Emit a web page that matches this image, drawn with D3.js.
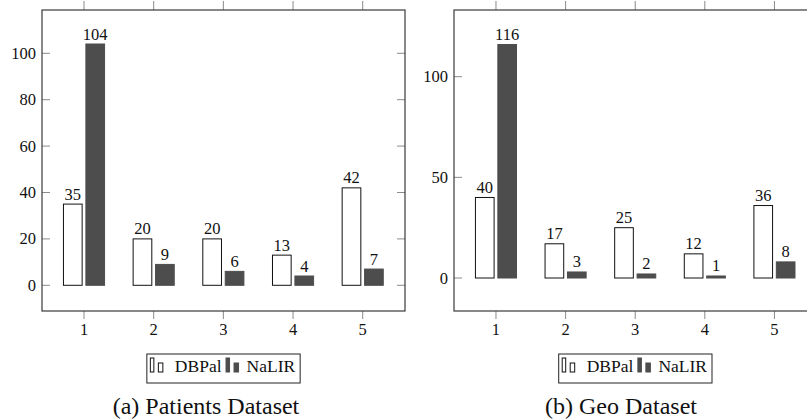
<!DOCTYPE html>
<html>
<head>
<meta charset="utf-8">
<script src="https://cdn.jsdelivr.net/npm/d3@7"></script>
</head>
<body style="margin:0">
<svg id="chart" width="807" height="419" style="display:block;font-family:'Liberation Serif'"></svg>
<script>
// ---- data ----
const categories = [1, 2, 3, 4, 5];
const seriesNames = ["DBPal", "NaLIR"];
const patientsDBPal = [35, 20, 20, 13, 42];
const patientsNaLIR = [104, 9, 6, 4, 7];
const geoDBPal = [40, 17, 25, 12, 36];
const geoNaLIR = [116, 3, 2, 1, 8];
const patientsYTicks = [0, 20, 40, 60, 80, 100];
const geoYTicks = [0, 50, 100];
const captions = ["(a) Patients Dataset", "(b) Geo Dataset"];

// ---- layout / style ----
const svg = d3.select("#chart");
const darkFill = "#4d4d4d";
const boxColor = "#3a3a3a";
const tickColor = "#8a8a8a";
const textColor = "#111";

const panels = [
  { left: 42, right: 405, top: 10, bottom: 311, yDomain: [-11.08, 118.66],
    series: [patientsDBPal, patientsNaLIR], yTicks: patientsYTicks,
    caption: captions[0], captionX: 206 },
  { left: 454, right: 816.7, top: 10, bottom: 311, yDomain: [-16.39, 133.13],
    series: [geoDBPal, geoNaLIR], yTicks: geoYTicks,
    caption: captions[1], captionX: 621 }
];

const xDomain = [0.397, 5.607];
const barOffset = 0.161, barHalf = 0.134;

function txt(sel) {
  return sel.style("font-family", "'Liberation Serif'").attr("fill", textColor);
}

panels.forEach(p => {
  const g = svg.append("g");
  const x = d3.scaleLinear().domain(xDomain).range([p.left, p.right]);
  const y = d3.scaleLinear().domain(p.yDomain).range([p.bottom, p.top]);

  // bars
  p.series.forEach((vals, si) => {
    const off = si === 0 ? -barOffset : barOffset;
    g.selectAll(null).data(categories).enter().append("rect")
      .attr("x", (c) => x(c + off - barHalf))
      .attr("width", (c) => x(c + off + barHalf) - x(c + off - barHalf))
      .attr("y", (c, i) => y(vals[i]))
      .attr("height", (c, i) => y(0) - y(vals[i]))
      .attr("fill", si === 0 ? "#fff" : darkFill)
      .attr("stroke", si === 0 ? "#111" : darkFill)
      .attr("stroke-width", 1);
    txt(g.selectAll(null).data(categories).enter().append("text"))
      .attr("x", (c) => x(c + off))
      .attr("y", (c, i) => y(vals[i]) - 4.5)
      .attr("text-anchor", "middle")
      .attr("font-size", 16.5)
      .text((c, i) => vals[i]);
  });

  // y ticks (inside), left and right
  p.yTicks.forEach(t => {
    g.append("line").attr("x1", p.left).attr("x2", p.left + 8)
      .attr("y1", y(t)).attr("y2", y(t)).attr("stroke", tickColor).attr("stroke-width", 1);
    g.append("line").attr("x1", p.right - 8).attr("x2", p.right)
      .attr("y1", y(t)).attr("y2", y(t)).attr("stroke", tickColor).attr("stroke-width", 1);
    txt(g.append("text")).attr("x", p.left - 6).attr("y", y(t) + 5.5)
      .attr("text-anchor", "end").attr("font-size", 16.5).text(t);
  });

  // x ticks (outside), top and bottom
  categories.forEach(c => {
    g.append("line").attr("x1", x(c)).attr("x2", x(c))
      .attr("y1", p.bottom).attr("y2", p.bottom + 8).attr("stroke", tickColor).attr("stroke-width", 1);
    g.append("line").attr("x1", x(c)).attr("x2", x(c))
      .attr("y1", p.top).attr("y2", p.top - 9).attr("stroke", tickColor).attr("stroke-width", 1);
    txt(g.append("text")).attr("x", x(c)).attr("y", p.bottom + 24)
      .attr("text-anchor", "middle").attr("font-size", 16.5).text(c);
  });

  // box
  g.append("rect").attr("x", p.left).attr("y", p.top)
    .attr("width", p.right - p.left).attr("height", p.bottom - p.top)
    .attr("fill", "none").attr("stroke", boxColor).attr("stroke-width", 1.2);

  // legend
  const lg = g.append("g");
  const fs = 17.5;
  const t1 = txt(lg.append("text")).attr("font-size", fs).text(seriesNames[0]);
  const t2 = txt(lg.append("text")).attr("font-size", fs).text(seriesNames[1]);
  const w1 = t1.node().getComputedTextLength();
  const w2 = t2.node().getComputedTextLength();
  const totalW = 3 + 14 + 11 + w1 + 4 + 14 + 7 + w2 + 5;
  const L = (p.left + p.right) / 2 - totalW / 2;
  const top = 354, bot = 383, base = 372;
  lg.insert("rect", ":first-child").attr("x", L).attr("y", top).attr("width", totalW).attr("height", bot - top)
    .attr("fill", "#fff").attr("stroke", "#222").attr("stroke-width", 1);
  function icon(x0, fill, stroke) {
    lg.append("rect").attr("x", x0 + 0.5).attr("y", base - 14).attr("width", 3.5).attr("height", 14)
      .attr("fill", fill).attr("stroke", stroke).attr("stroke-width", 1);
    lg.append("rect").attr("x", x0 + 8.5).attr("y", base - 9).attr("width", 4.5).attr("height", 9)
      .attr("fill", fill).attr("stroke", stroke).attr("stroke-width", 1);
  }
  let cx = L + 3;
  icon(cx, "#fff", "#111");
  cx += 14 + 11;
  t1.attr("x", cx).attr("y", base);
  cx += w1 + 4;
  icon(cx, darkFill, darkFill);
  cx += 14 + 7;
  t2.attr("x", cx).attr("y", base);

  // caption
  txt(g.append("text")).attr("x", p.captionX).attr("y", 414)
    .attr("text-anchor", "middle").attr("font-size", 24).text(p.caption);
});
</script>
</body>
</html>
